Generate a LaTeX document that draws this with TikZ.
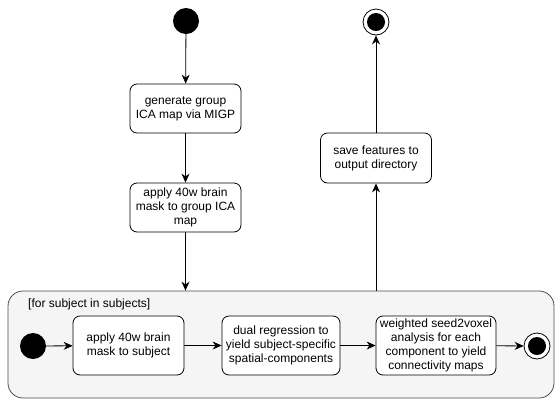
\documentclass[tikz,border=0pt]{standalone}
\usepackage{fontspec}
\setmainfont{Liberation Sans}
\usetikzlibrary{arrows.meta,calc}
\begin{document}
\begin{tikzpicture}[x=1pt,y=-1pt,
  every node/.style={font=\fontsize{12}{14.2}\selectfont},
  actbox/.style={draw=black, fill=white, rounded corners=7pt, line width=0.8pt, align=center, inner sep=0pt},
  startdot/.style={circle, fill=black, minimum size=26pt, inner sep=0pt},
  enddot/.style={circle, draw=black, fill=white, line width=0.8pt, minimum size=26pt, inner sep=0pt, path picture={\fill[black] (path picture bounding box.center) circle (9pt);}},
  flow/.style={-{Stealth[length=9pt,width=8pt]}, line width=0.8pt, black}]
\useasboundingbox (0,0) rectangle (557,400);
% container
\node[draw=black!70, fill=black!4, rounded corners=15pt, line width=0.8pt, minimum width=546pt, minimum height=107pt, inner sep=0pt] (loop) at (281,344.5) {};
\node[anchor=west, inner sep=0pt] (looplabel) at (28,304) {[for subject in subjects]};
% top part
\node[startdot] (start) at (186,21) {};
\node[actbox, minimum width=111pt, minimum height=49pt] (gen) at (185.5,108.5) {generate group\\ICA map via MIGP};
\node[actbox, minimum width=111pt, minimum height=49pt] (mask) at (185.5,207.5) {apply 40w brain\\mask to group ICA\\map};
\node[actbox, minimum width=111pt, minimum height=50pt] (save) at (376,158) {save features to\\output directory};
\node[enddot] (end) at (376,22) {};
% inner
\node[startdot] (istart) at (33,346) {};
\node[actbox, minimum width=111pt, minimum height=59pt] (ma) at (128.5,345.5) {apply 40w brain\\mask to subject};
\node[actbox, minimum width=118pt, minimum height=59pt] (dr) at (281,345.5) {dual regression to\\yield subject-specific\\spatial-components};
\node[actbox, minimum width=120pt, minimum height=59pt] (ws) at (436,345.5) {weighted seed2voxel\\analysis for each\\component to yield\\connectivity maps};
\node[enddot] (iend) at (537,346) {};
% connectors
\draw[flow] (start) -- (gen);
\draw[flow] (gen) -- (mask);
\draw[flow] (mask) -- (mask |- loop.north);
\draw[flow] (save |- loop.north) -- (save);
\draw[flow] (save) -- (end);
\draw[flow] (istart) -- (ma);
\draw[flow] (ma) -- (dr);
\draw[flow] (dr) -- (ws);
\draw[flow] (ws) -- (iend);
\end{tikzpicture}
\end{document}
